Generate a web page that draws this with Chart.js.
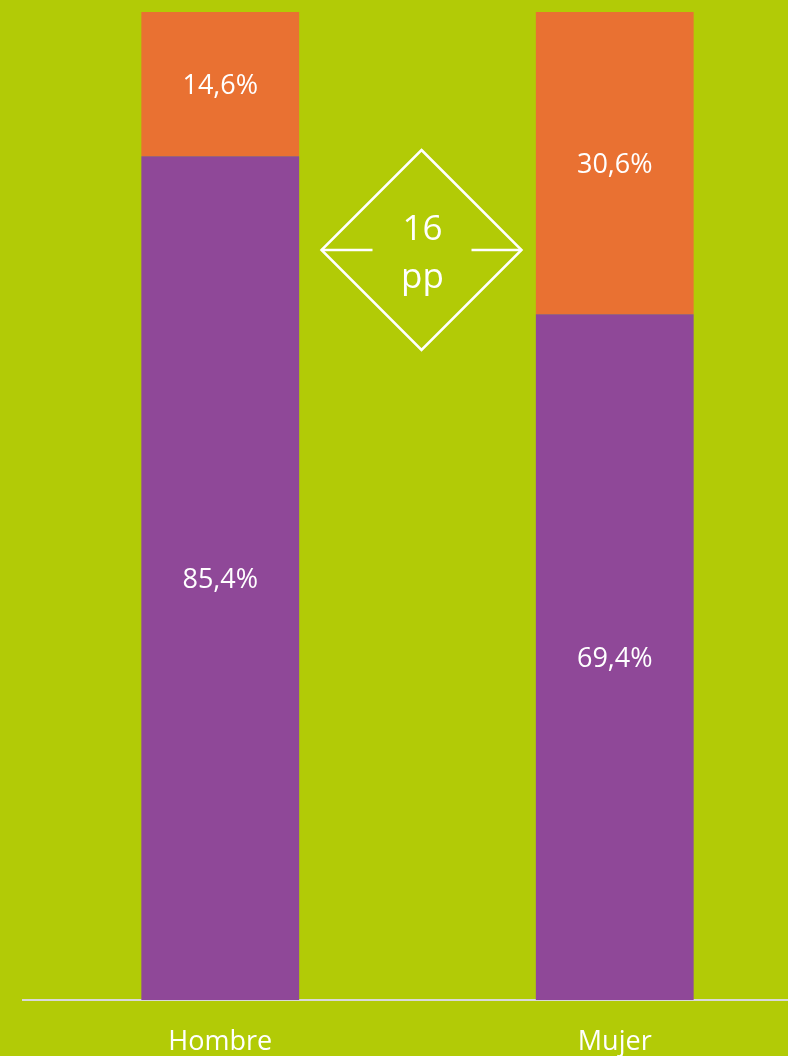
<!DOCTYPE html>
<html><head><meta charset="utf-8">
<script src="https://cdn.jsdelivr.net/npm/chart.js@4/dist/chart.umd.min.js"></script>
<style>
html,body{margin:0;padding:0;background:#B2CB06;overflow:hidden;}
#wrap{position:relative;width:812px;height:1056px;}
</style></head><body>
<div id="wrap"><canvas id="c"></canvas></div>
<script>
const categories = ['Hombre', 'Mujer'];
const purpleValues = [85.4, 69.4];
const orangeValues = [14.6, 30.6];
const gapUnit = 'pp';

const FONT = '"Open Sans", sans-serif';
const fmt = v => v.toFixed(1).replace('.', ',') + '%';

const barLabels = {
  id: 'barLabels',
  afterDatasetsDraw(chart) {
    const ctx = chart.ctx;
    ctx.save();
    ctx.fillStyle = '#FFFFFF';
    ctx.font = '27px ' + FONT;
    ctx.textAlign = 'center';
    ctx.textBaseline = 'middle';
    chart.data.datasets.forEach((ds, di) => {
      const meta = chart.getDatasetMeta(di);
      meta.data.forEach((bar, i) => {
        const yc = (bar.y + bar.base) / 2;
        ctx.fillText(fmt(ds.data[i]), bar.x, yc + 2);
      });
    });
    ctx.restore();
  }
};

const diamond = {
  id: 'diamond',
  afterDatasetsDraw(chart) {
    const ctx = chart.ctx;
    const xs = chart.scales.x;
    const ca = chart.chartArea;
    const cx = (xs.getPixelForValue(0) + xs.getPixelForValue(1)) / 2 + 4;
    const cy = ca.top + 238;
    const h = 100;
    ctx.save();
    ctx.strokeStyle = '#FFFFFF';
    ctx.lineWidth = 2.5;
    ctx.lineJoin = 'miter';
    ctx.beginPath();
    ctx.moveTo(cx, cy - h);
    ctx.lineTo(cx + h, cy);
    ctx.lineTo(cx, cy + h);
    ctx.lineTo(cx - h, cy);
    ctx.closePath();
    ctx.stroke();
    ctx.beginPath();
    ctx.moveTo(cx - h, cy); ctx.lineTo(cx - 49, cy);
    ctx.moveTo(cx + 50, cy); ctx.lineTo(cx + h, cy);
    ctx.stroke();
    const diff = Math.round(orangeValues[1] - orangeValues[0]);
    ctx.fillStyle = '#FFFFFF';
    ctx.font = '35px ' + FONT;
    ctx.textAlign = 'center';
    ctx.textBaseline = 'alphabetic';
    ctx.fillText(String(diff), cx + 1, cy - 10);
    ctx.fillText(gapUnit, cx + 1, cy + 38);
    ctx.restore();
  }
};

new Chart(document.getElementById('c'), {
  type: 'bar',
  data: {
    labels: categories,
    datasets: [
      { label: 'A', data: purpleValues, backgroundColor: '#8F4898', borderWidth: 0 },
      { label: 'B', data: orangeValues, backgroundColor: '#E97132', borderWidth: 0 }
    ]
  },
  options: {
    responsive: true,
    maintainAspectRatio: false,
    animation: false,
    events: [],
    layout: { padding: { left: 23, right: 0, top: 12, bottom: 0 } },
    categoryPercentage: 1,
    barPercentage: 0.4,
    plugins: { legend: { display: false }, tooltip: { enabled: false } },
    scales: {
      x: {
        stacked: true,
        grid: { display: false, drawTicks: false, drawOnChartArea: false },
        border: { display: true, color: '#D9D9D9', width: 2 },
        ticks: { color: '#FFFFFF', font: { family: FONT, size: 27 }, padding: 26 },
        afterFit(scale) { scale.height = 56; }
      },
      y: {
        stacked: true,
        display: false,
        min: 0,
        max: 100
      }
    }
  },
  plugins: [barLabels, diamond]
});
</script>
</body></html>
